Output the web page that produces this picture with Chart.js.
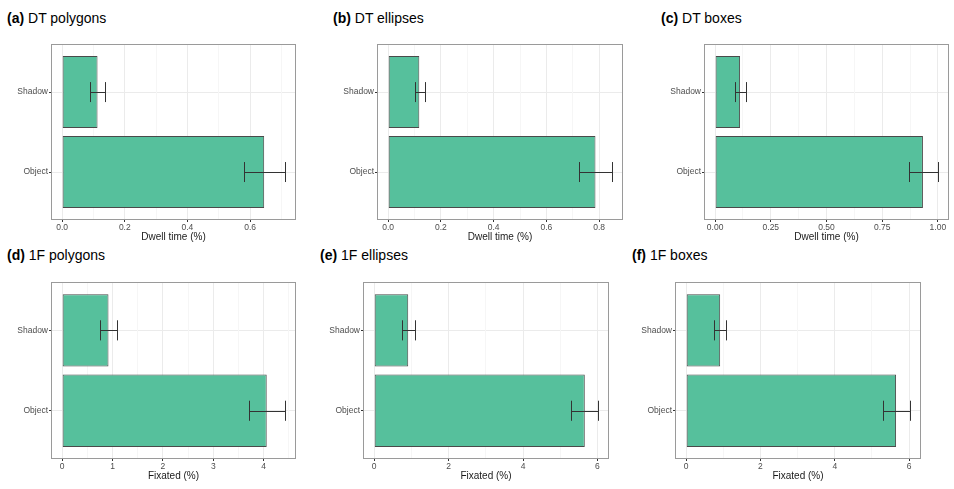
<!DOCTYPE html>
<html>
<head>
<meta charset="utf-8">
<script src="https://cdn.jsdelivr.net/npm/chart.js@4/dist/chart.umd.min.js"></script>
<style>
  body { margin: 0; background: #fff; width: 954px; height: 489px; overflow: hidden; position: relative;
         font-family: "Liberation Sans", Arial, sans-serif; }
  .title { position: absolute; font-size: 14px; line-height: 14px; color: #000; white-space: nowrap; }
  .wrap { position: absolute; }
</style>
</head>
<body>
<script>
// Categories (bottom to top, as in the figure)
const CATEGORIES = ['Object', 'Shadow'];

// Dwell time (%) – means and error bar limits
const DT_POLY_MEAN = [0.645, 0.113];
const DT_POLY_LOW  = [0.580, 0.088];
const DT_POLY_HIGH = [0.711, 0.138];

const DT_ELL_MEAN = [0.786, 0.118];
const DT_ELL_LOW  = [0.725, 0.100];
const DT_ELL_HIGH = [0.848, 0.140];

const DT_BOX_MEAN = [0.933, 0.112];
const DT_BOX_LOW  = [0.869, 0.089];
const DT_BOX_HIGH = [1.000, 0.137];

// Fixated (%) – means and error bar limits
const F1_POLY_MEAN = [4.06, 0.920];
const F1_POLY_LOW  = [3.70, 0.756];
const F1_POLY_HIGH = [4.42, 1.086];

const F1_ELL_MEAN = [5.66, 0.915];
const F1_ELL_LOW  = [5.30, 0.753];
const F1_ELL_HIGH = [6.01, 1.095];

const F1_BOX_MEAN = [5.65, 0.915];
const F1_BOX_LOW  = [5.31, 0.745];
const F1_BOX_HIGH = [6.02, 1.077];

// Tick labels
const TICKS_DT_POLY = ['0.0', '0.2', '0.4', '0.6'];
const TICKS_DT_ELL  = ['0.0', '0.2', '0.4', '0.6', '0.8'];
const TICKS_DT_BOX  = ['0.00', '0.25', '0.50', '0.75', '1.00'];
const TICKS_F1_POLY = ['0', '1', '2', '3', '4'];
const TICKS_F1_ELL  = ['0', '2', '4', '6'];
const TICKS_F1_BOX  = ['0', '2', '4', '6'];

const PANELS = [
  { tag: '(a)', name: 'DT polygons', axis: 'Dwell time (%)', mean: DT_POLY_MEAN, low: DT_POLY_LOW, high: DT_POLY_HIGH, ticks: TICKS_DT_POLY },
  { tag: '(b)', name: 'DT ellipses', axis: 'Dwell time (%)', mean: DT_ELL_MEAN,  low: DT_ELL_LOW,  high: DT_ELL_HIGH,  ticks: TICKS_DT_ELL },
  { tag: '(c)', name: 'DT boxes',    axis: 'Dwell time (%)', mean: DT_BOX_MEAN,  low: DT_BOX_LOW,  high: DT_BOX_HIGH,  ticks: TICKS_DT_BOX },
  { tag: '(d)', name: '1F polygons', axis: 'Fixated (%)',    mean: F1_POLY_MEAN, low: F1_POLY_LOW, high: F1_POLY_HIGH, ticks: TICKS_F1_POLY },
  { tag: '(e)', name: '1F ellipses', axis: 'Fixated (%)',    mean: F1_ELL_MEAN,  low: F1_ELL_LOW,  high: F1_ELL_HIGH,  ticks: TICKS_F1_ELL },
  { tag: '(f)', name: '1F boxes',    axis: 'Fixated (%)',    mean: F1_BOX_MEAN,  low: F1_BOX_LOW,  high: F1_BOX_HIGH,  ticks: TICKS_F1_BOX }
];

// Page layout: plot-panel boxes and title anchors
const BOXES = [
  { l: 51,  t: 41,  r: 296, b: 220 },
  { l: 377, t: 41,  r: 623, b: 220 },
  { l: 704, t: 41,  r: 949, b: 220 },
  { l: 51,  t: 279, r: 296, b: 459 },
  { l: 363, t: 279, r: 609, b: 459 },
  { l: 675, t: 279, r: 921, b: 459 }
];
const TITLE_POS = [[7, 11], [333, 11], [661, 11], [7, 248], [320, 248], [632, 248]];

const Y_W = 50, PAD_T = 3, PAD_R = 3, X_H = 24;
const BAR_FILL = '#56c09c';

// error bars + panel border
const errorBars = {
  id: 'errorBars',
  afterDatasetsDraw(chart, args, opts) {
    const ctx = chart.ctx, xs = chart.scales.x, ys = chart.scales.y;
    ctx.save();
    ctx.strokeStyle = '#333';
    ctx.lineWidth = 1;
    opts.low.forEach((lo, i) => {
      const x1 = Math.round(xs.getPixelForValue(lo)) + 0.5;
      const x2 = Math.round(xs.getPixelForValue(opts.high[i])) + 0.5;
      const y = Math.round(ys.getPixelForValue(i)) + 0.5;
      const yt = ys.getPixelForValue(i + 0.125), yb = ys.getPixelForValue(i - 0.125);
      ctx.beginPath();
      ctx.moveTo(x1, y); ctx.lineTo(x2, y);
      ctx.moveTo(x1, yt); ctx.lineTo(x1, yb);
      ctx.moveTo(x2, yt); ctx.lineTo(x2, yb);
      ctx.stroke();
    });
    const a = chart.chartArea;
    ctx.strokeStyle = '#9a9a9a';
    ctx.strokeRect(Math.round(a.left) + 0.5, Math.round(a.top) + 0.5,
                   Math.round(a.right - a.left) - 1, Math.round(a.bottom - a.top) - 1);
    ctx.restore();
  }
};

function makePanel(p, k) {
  const box = BOXES[k];
  const t = document.createElement('div');
  t.className = 'title';
  t.style.left = TITLE_POS[k][0] + 'px';
  t.style.top = TITLE_POS[k][1] + 'px';
  t.innerHTML = '<b>' + p.tag + '</b> ' + p.name;
  document.body.appendChild(t);

  const w = Y_W + (box.r - box.l) + PAD_R;
  const h = PAD_T + (box.b - box.t) + X_H;
  const wrap = document.createElement('div');
  wrap.className = 'wrap';
  wrap.style.left = (box.l - Y_W) + 'px';
  wrap.style.top = (box.t - PAD_T) + 'px';
  const cv = document.createElement('canvas');
  cv.width = w; cv.height = h;
  wrap.appendChild(cv);
  document.body.appendChild(wrap);

  // ggplot-like 5% expansion on the value axis
  const hi = Math.max(...p.high);
  const xmin = -0.05 * hi, xmax = hi * 1.05;
  const majors = p.ticks.map(s => parseFloat(s));
  const step = majors[1] - majors[0];
  const tickList = [];
  majors.forEach((v, i) => {
    tickList.push({ value: v, lbl: p.ticks[i] });
    const m = v + step / 2;
    if (m <= xmax) tickList.push({ value: m, lbl: '' });
  });

  new Chart(cv, {
    type: 'bar',
    data: {
      datasets: [{
        data: CATEGORIES.map((c, i) => ({ x: p.mean[i], y: i })),
        backgroundColor: BAR_FILL,
        borderColor: '#4a4a4a',
        borderWidth: 1,
        borderSkipped: false,
        categoryPercentage: 1,
        barPercentage: 0.9
      }]
    },
    options: {
      indexAxis: 'y',
      responsive: false,
      animation: false,
      devicePixelRatio: 1,
      layout: { padding: { top: PAD_T, right: PAD_R, left: 0, bottom: 0 } },
      plugins: { legend: { display: false }, tooltip: { enabled: false }, errorBars: { low: p.low, high: p.high } },
      scales: {
        y: {
          type: 'linear',
          min: -0.6, max: 1.6,
          offset: false,
          afterBuildTicks: s => { s.ticks = CATEGORIES.map((c, i) => ({ value: i })); },
          afterFit: s => { s.width = Y_W; },
          border: { display: false },
          grid: { offset: false, color: '#ebebeb', tickColor: '#333', tickLength: 2 },
          ticks: {
            callback: v => CATEGORIES[v],
            color: '#4d4d4d',
            font: { family: '"Liberation Sans", Arial, sans-serif', size: 8.5 },
            padding: 1
          }
        },
        x: {
          type: 'linear',
          min: xmin, max: xmax,
          afterBuildTicks: s => { s.ticks = tickList.map(o => ({ value: o.value, lbl: o.lbl })); },
          afterFit: s => { s.height = X_H; },
          border: { display: false },
          grid: {
            color: c => (c.tick && c.tick.lbl) ? '#ebebeb' : '#f6f6f6',
            tickColor: c => (c.tick && c.tick.lbl) ? '#333' : 'rgba(0,0,0,0)',
            tickLength: 2
          },
          ticks: {
            autoSkip: false, maxRotation: 0,
            callback: (v, i, ts) => ts[i].lbl,
            color: '#4d4d4d',
            font: { family: '"Liberation Sans", Arial, sans-serif', size: 8.5 },
            padding: 1
          },
          title: {
            display: true, text: p.axis, color: '#1a1a1a',
            font: { family: '"Liberation Sans", Arial, sans-serif', size: 10 },
            padding: { top: 0, bottom: 1 }
          }
        }
      }
    },
    plugins: [errorBars]
  });
}

PANELS.forEach(makePanel);
</script>
</body>
</html>
